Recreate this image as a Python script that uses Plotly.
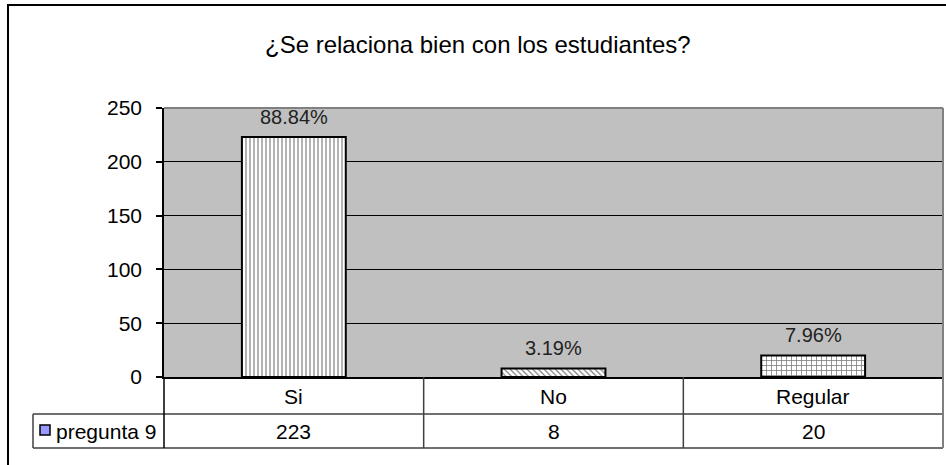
import plotly.graph_objects as go

categories = ["Si", "No", "Regular"]
values = [223, 8, 20]
pct_labels = ["88.84%", "3.19%", "7.96%"]
series_name = "pregunta 9"
title_text = "¿Se relaciona bien con los estudiantes?"
y_ticks = [0, 50, 100, 150, 200, 250]

W, H = 946, 465
L, R, T, B = 164, 3, 108, 88
PW = W - L - R
PH = H - T - B

def px_x(x):
    return (x - L) / PW

def px_y(y):
    return 1 - (y - T) / PH

FONT = "Liberation Sans, Arial, sans-serif"

fig = go.Figure()
fig.add_trace(go.Bar(
    x=categories, y=values, width=0.4,
    marker=dict(
        color="white",
        line=dict(color="black", width=2),
        pattern=dict(shape=["|", "\\", "+"], size=[4, 4, 5],
                     fgcolor="black", bgcolor="white", solidity=0.3),
    ),
    name=series_name, showlegend=False, hoverinfo="skip",
))

shapes = []
# outer chart frame
shapes.append(dict(type="rect", xref="paper", yref="paper",
                   x0=px_x(8), x1=px_x(952), y0=px_y(5), y1=px_y(472),
                   line=dict(color="black", width=2), layer="below"))
# plot border top/right (gray)
shapes.append(dict(type="line", xref="paper", yref="paper",
                   x0=0, x1=1, y0=1, y1=1, line=dict(color="#808080", width=2), layer="above"))
shapes.append(dict(type="line", xref="paper", yref="paper",
                   x0=1, x1=1, y0=0, y1=1, line=dict(color="#808080", width=2), layer="above"))

tc = "#404040"
# table horizontal lines
for yy in [414, 448]:
    shapes.append(dict(type="line", xref="paper", yref="paper",
                       x0=px_x(33), x1=px_x(943), y0=px_y(yy), y1=px_y(yy),
                       line=dict(color=tc, width=1.5)))
# table vertical lines
shapes.append(dict(type="line", xref="paper", yref="paper",
                   x0=px_x(33), x1=px_x(33), y0=px_y(414), y1=px_y(448),
                   line=dict(color=tc, width=1.5)))
shapes.append(dict(type="line", xref="paper", yref="paper",
                   x0=0, x1=0, y0=px_y(377), y1=px_y(448),
                   line=dict(color="black", width=1.5)))
for i in range(1, len(categories)):
    xb = i / len(categories)
    shapes.append(dict(type="line", xref="paper", yref="paper",
                       x0=xb, x1=xb, y0=px_y(377), y1=px_y(448),
                       line=dict(color=tc, width=1.5)))
shapes.append(dict(type="line", xref="paper", yref="paper",
                   x0=1, x1=1, y0=px_y(377), y1=px_y(448),
                   line=dict(color="#808080", width=2)))
# legend key square
shapes.append(dict(type="rect", xref="paper", yref="paper",
                   x0=px_x(40), x1=px_x(50), y0=px_y(425), y1=px_y(435),
                   fillcolor="#9999FF", line=dict(color="black", width=1.5)))

annotations = []
annotations.append(dict(text=title_text, xref="paper", yref="paper",
                        x=px_x(478), y=px_y(44), showarrow=False,
                        font=dict(family=FONT, size=24, color="black"),
                        xanchor="center", yanchor="middle"))
for c, v, p in zip(categories, values, pct_labels):
    annotations.append(dict(text=p, x=c, y=v, xref="x", yref="y",
                            showarrow=False, yanchor="bottom", yshift=7,
                            font=dict(family=FONT, size=20, color="#222")))
    annotations.append(dict(text=c, x=c, xref="x", yref="paper", y=px_y(396),
                            showarrow=False, yanchor="middle",
                            font=dict(family=FONT, size=21, color="black")))
    annotations.append(dict(text=str(v), x=c, xref="x", yref="paper", y=px_y(431),
                            showarrow=False, yanchor="middle",
                            font=dict(family=FONT, size=21, color="black")))
annotations.append(dict(text=series_name, xref="paper", yref="paper",
                        x=px_x(54), y=px_y(431), showarrow=False,
                        xanchor="left", yanchor="middle",
                        font=dict(family=FONT, size=21, color="black")))

fig.update_layout(
    width=W, height=H,
    margin=dict(l=L, r=R, t=T, b=B),
    paper_bgcolor="white", plot_bgcolor="#C0C0C0",
    shapes=shapes, annotations=annotations,
    bargap=0.6,
    xaxis=dict(showticklabels=False, ticks="", showgrid=False,
               showline=True, linecolor="black", linewidth=1.5,
               range=[-0.5, 2.5], zeroline=False),
    yaxis=dict(range=[0, 250], tickvals=y_ticks, ticks="outside", ticklen=6,
               tickcolor="black", tickwidth=1.5,
               showline=True, linecolor="black", linewidth=1.5,
               showgrid=True, gridcolor="black", gridwidth=1, zeroline=False,
               ticklabelstandoff=10,
               tickfont=dict(family=FONT, size=21, color="black")),
    font=dict(family=FONT),
)

fig.write_html("out.html", config={"displayModeBar": False},
               post_script="document.body.style.margin='0';document.body.style.overflow='hidden';")
